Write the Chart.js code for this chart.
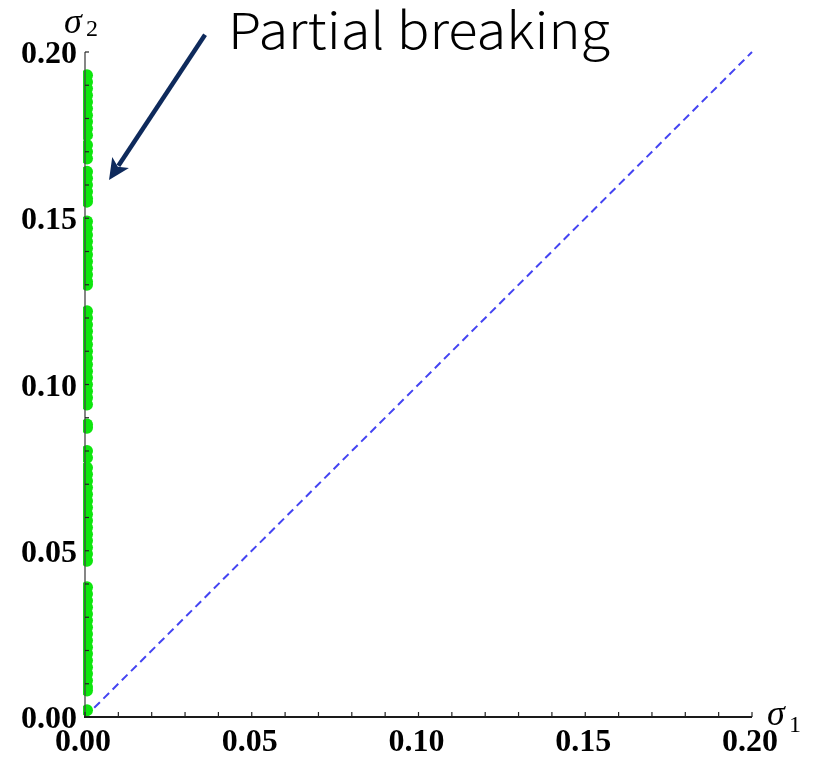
<!DOCTYPE html>
<html>
<head>
<meta charset="utf-8">
<script src="https://cdn.jsdelivr.net/npm/chart.js@4.4.1/dist/chart.umd.min.js"></script>
<style>
  html, body { margin: 0; padding: 0; background: #ffffff; }
  #wrap { width: 821px; height: 757px; position: relative; }
  canvas { display: block; }
</style>
</head>
<body>
<div id="wrap"><canvas id="c" width="821" height="757"></canvas></div>
<script>
// ---- Data ----
const xTickLabels = ['0.00', '0.05', '0.10', '0.15', '0.20'];
const yTickLabels = ['0.00', '0.05', '0.10', '0.15', '0.20'];
const xAxisTitle = ['σ', '1'];
const yAxisTitle = ['σ', '2'];

// "Partial breaking" points: sigma1 ~ 0, sigma2 values along the vertical axis
const partialSigma1 = 0.0006;
const partialSigma2 = [
  0.193, 0.191, 0.189, 0.187, 0.185, 0.183, 0.181, 0.179, 0.177,
  0.175, 0.172, 0.170, 0.168,
  0.164, 0.162, 0.160, 0.158, 0.156, 0.155,
  0.149, 0.147, 0.145, 0.143, 0.141, 0.139, 0.137, 0.135, 0.133, 0.131, 0.130,
  0.122, 0.120, 0.118, 0.116, 0.114, 0.112, 0.110, 0.108, 0.106, 0.104, 0.102, 0.100, 0.098, 0.096, 0.094,
  0.088, 0.087,
  0.080, 0.078,
  0.075, 0.073, 0.071, 0.069, 0.067, 0.065, 0.063, 0.061, 0.059, 0.057, 0.055, 0.053, 0.051, 0.049, 0.047,
  0.039, 0.037, 0.035, 0.033, 0.031, 0.029, 0.027, 0.025, 0.023, 0.021, 0.019, 0.017, 0.015, 0.013, 0.011, 0.009, 0.008,
  0.002
];

// Diagonal sigma2 = sigma1 reference line
const diagSigma1 = [0.0, 0.2];
const diagSigma2 = [0.0, 0.2];

// Annotation (data coordinates)
const annotationText = 'Partial breaking';
const arrowTail = { x: 0.036, y: 0.2052 };
const arrowTip  = { x: 0.0072, y: 0.1615 };
const annotationAnchor = { x: 0.0429, y: 0.2008 }; // left, baseline

// ---- Helpers ----
function drawText(ctx, text, x, y, font, align, baseline) {
  ctx.font = font;
  ctx.textAlign = align;
  ctx.textBaseline = baseline;
  ctx.fillText(text, x, y);
}

const axesPlugin = {
  id: 'mathematicaAxes',
  afterDatasetsDraw(chart) {
    const ctx = chart.ctx;
    const xs = chart.scales.x, ys = chart.scales.y;
    const area = chart.chartArea;
    ctx.save();
    ctx.fillStyle = '#000';

    // y axis line
    ctx.lineWidth = 1.3;
    ctx.strokeStyle = '#444';
    ctx.beginPath();
    ctx.moveTo(area.left, area.bottom);
    ctx.lineTo(area.left, area.top);
    ctx.stroke();
    // x axis line
    ctx.lineWidth = 2;
    ctx.strokeStyle = '#1a1a1a';
    ctx.beginPath();
    ctx.moveTo(area.left - 1, area.bottom);
    ctx.lineTo(area.right, area.bottom);
    ctx.stroke();

    // inward ticks
    ctx.lineWidth = 1.2;
    ctx.strokeStyle = '#222';
    xs.ticks.forEach((t) => {
      const px = xs.getPixelForValue(t.value);
      ctx.beginPath();
      ctx.moveTo(px, area.bottom);
      ctx.lineTo(px, area.bottom - 5);
      ctx.stroke();
    });
    ys.ticks.forEach((t) => {
      const py = ys.getPixelForValue(t.value);
      ctx.beginPath();
      ctx.moveTo(area.left, py);
      ctx.lineTo(area.left + 4, py);
      ctx.stroke();
    });

    // tick labels (bold serif)
    const tickFont = 'bold 32px "Liberation Serif", "Times New Roman", serif';
    xs.ticks.forEach((t, i) => {
      if (i % 5 !== 0) return;
      const px = xs.getPixelForValue(t.value);
      drawText(ctx, xTickLabels[i / 5], px - 2, area.bottom + 34, tickFont, 'center', 'alphabetic');
    });
    ys.ticks.forEach((t, i) => {
      if (i % 5 !== 0) return;
      const py = ys.getPixelForValue(t.value);
      drawText(ctx, yTickLabels[i / 5], area.left - 8, py + 11, tickFont, 'right', 'alphabetic');
    });

    // axis titles
    const sigFont = 'italic 36px "Liberation Serif", "Times New Roman", serif';
    const subFont = '24px "Liberation Serif", "Times New Roman", serif';
    drawText(ctx, yAxisTitle[0], area.left - 21, area.top - 19, sigFont, 'left', 'alphabetic');
    drawText(ctx, yAxisTitle[1], area.left + 1, area.top - 16, subFont, 'left', 'alphabetic');
    drawText(ctx, xAxisTitle[0], area.right + 15, area.bottom + 8, sigFont, 'left', 'alphabetic');
    drawText(ctx, xAxisTitle[1], area.right + 37, area.bottom + 15, subFont, 'left', 'alphabetic');

    // arrow annotation
    const tx = xs.getPixelForValue(arrowTail.x), ty = ys.getPixelForValue(arrowTail.y);
    const hx = xs.getPixelForValue(arrowTip.x), hy = ys.getPixelForValue(arrowTip.y);
    const ang = Math.atan2(hy - ty, hx - tx);
    const headLen = 21, headHalf = 10;
    const bx = hx - headLen * Math.cos(ang), by = hy - headLen * Math.sin(ang);
    ctx.strokeStyle = '#0e2a5c';
    ctx.fillStyle = '#0e2a5c';
    ctx.lineWidth = 4.5;
    ctx.lineCap = 'butt';
    ctx.beginPath();
    ctx.moveTo(tx, ty);
    ctx.lineTo(bx + 4 * Math.cos(ang), by + 4 * Math.sin(ang));
    ctx.stroke();
    ctx.beginPath();
    ctx.moveTo(hx, hy);
    ctx.lineTo(bx + headHalf * Math.sin(ang), by - headHalf * Math.cos(ang));
    ctx.lineTo(bx + 5 * Math.cos(ang), by + 5 * Math.sin(ang));
    ctx.lineTo(bx - headHalf * Math.sin(ang), by + headHalf * Math.cos(ang));
    ctx.closePath();
    ctx.fill();

    // annotation text
    const ax = xs.getPixelForValue(annotationAnchor.x), ay = ys.getPixelForValue(annotationAnchor.y);
    ctx.fillStyle = '#000';
    ctx.font = '300 50px "Noto Sans CJK JP", "Noto Sans", sans-serif';
    ctx.textAlign = 'left';
    ctx.textBaseline = 'alphabetic';
    const w = ctx.measureText(annotationText).width;
    const targetW = 382;
    ctx.save();
    ctx.translate(ax, ay);
    ctx.scale(targetW / w, 1);
    ctx.fillText(annotationText, 0, 0);
    ctx.restore();

    ctx.restore();
  }
};

const partialPoints = partialSigma2.map(v => ({ x: partialSigma1, y: v }));
const diagPoints = diagSigma1.map((v, i) => ({ x: v, y: diagSigma2[i] }));

new Chart(document.getElementById('c'), {
  type: 'scatter',
  data: {
    datasets: [
      {
        label: 'Partial breaking',
        data: partialPoints,
        backgroundColor: '#0ee60e',
        borderColor: '#0ee60e',
        borderWidth: 0,
        pointRadius: 6,
        pointHoverRadius: 6,
        clip: { left: 2, top: 10, right: 10, bottom: 0 }
      },
      {
        label: 'sigma2 = sigma1',
        data: diagPoints,
        type: 'line',
        showLine: true,
        borderColor: '#4444f2',
        borderWidth: 2,
        borderDash: [8, 5],
        pointRadius: 0,
        fill: false,
        clip: false
      }
    ]
  },
  options: {
    responsive: false,
    maintainAspectRatio: false,
    animation: false,
    devicePixelRatio: 1,
    layout: { padding: { left: 0, top: 52, right: 69, bottom: 0 } },
    plugins: {
      legend: { display: false },
      tooltip: { enabled: false },
      title: { display: false }
    },
    scales: {
      x: {
        type: 'linear',
        position: 'bottom',
        min: 0, max: 0.2,
        ticks: { stepSize: 0.01, display: false },
        grid: { display: false },
        border: { display: false },
        afterFit: s => { s.height = 40; }
      },
      y: {
        type: 'linear',
        position: 'left',
        min: 0, max: 0.2,
        ticks: { stepSize: 0.01, display: false },
        grid: { display: false },
        border: { display: false },
        afterFit: s => { s.width = 85; }
      }
    }
  },
  plugins: [axesPlugin]
});
</script>
</body>
</html>
